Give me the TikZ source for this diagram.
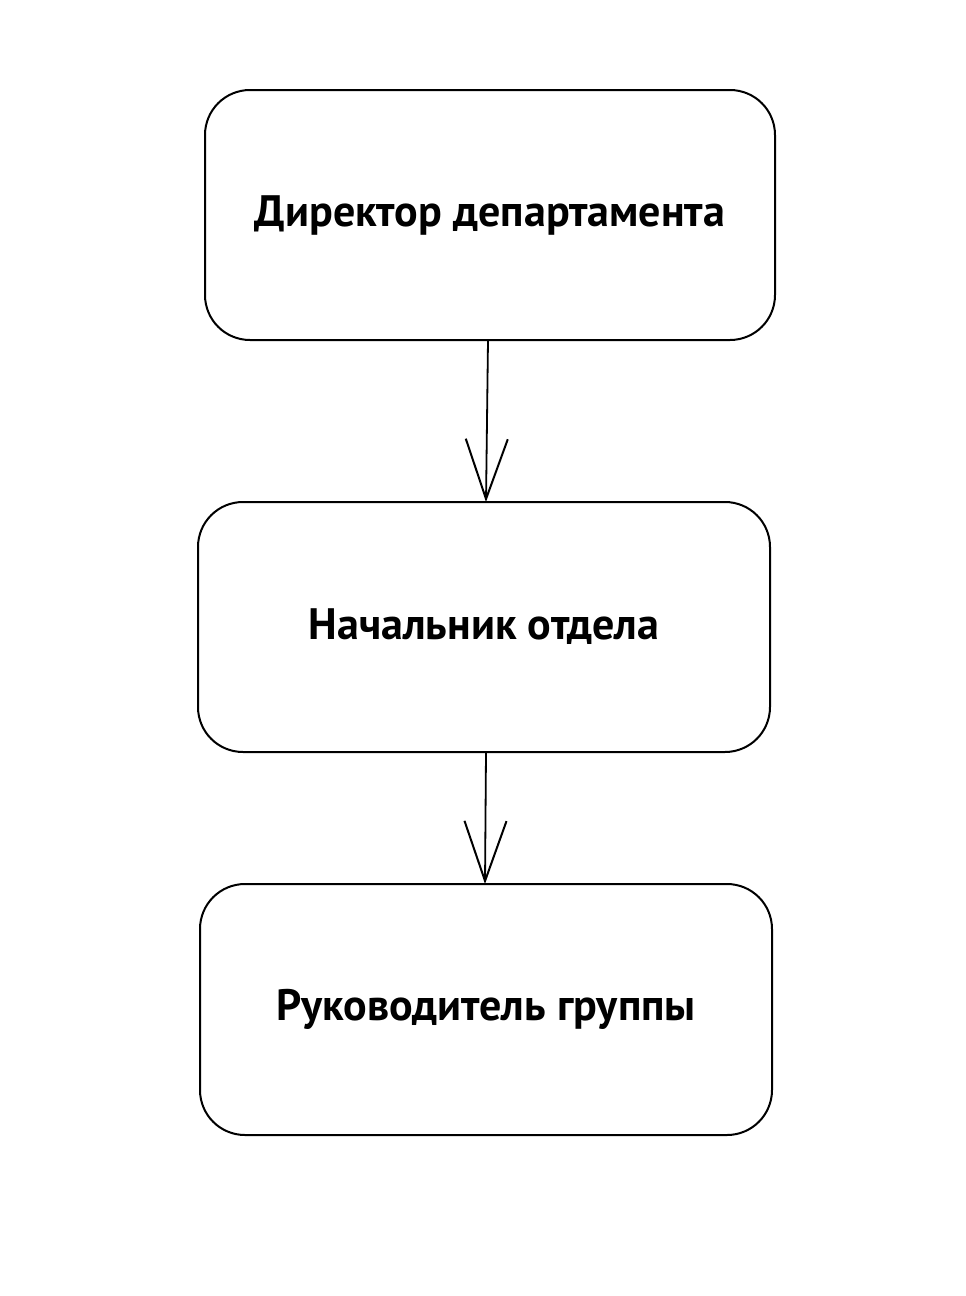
\documentclass[tikz,border=0pt]{standalone}
\usepackage{fontspec}
\setmainfont{PT Sans}
\usetikzlibrary{arrows.meta}
\begin{document}
\begin{tikzpicture}[x=1pt,y=-1pt,
  box/.style={draw, line width=2pt, rounded corners=45pt, inner sep=0pt,
    font=\fontsize{44}{48}\selectfont\bfseries},
  conn/.style={line width=1.8pt, -{Straight Barb[length=60pt,width=42pt,line width=2pt]}}]
\useasboundingbox[fill=white] (0,0) rectangle (966,1296);
\node[box, minimum width=570pt, minimum height=250pt] (a) at (490,215) {Директор департамента};
\node[box, minimum width=572pt, minimum height=250pt] (b) at (484,627) {Начальник отдела};
\node[box, minimum width=572pt, minimum height=251pt] (c) at (486,1009.5) {Руководитель группы};
\coordinate (a1) at (488,340);
\coordinate (b1) at (486,502);
\coordinate (b2) at (486,752);
\coordinate (c1) at (485,884);
\draw[conn] (a1) -- (b1);
\draw[conn] (b2) -- (c1);
\end{tikzpicture}
\end{document}
